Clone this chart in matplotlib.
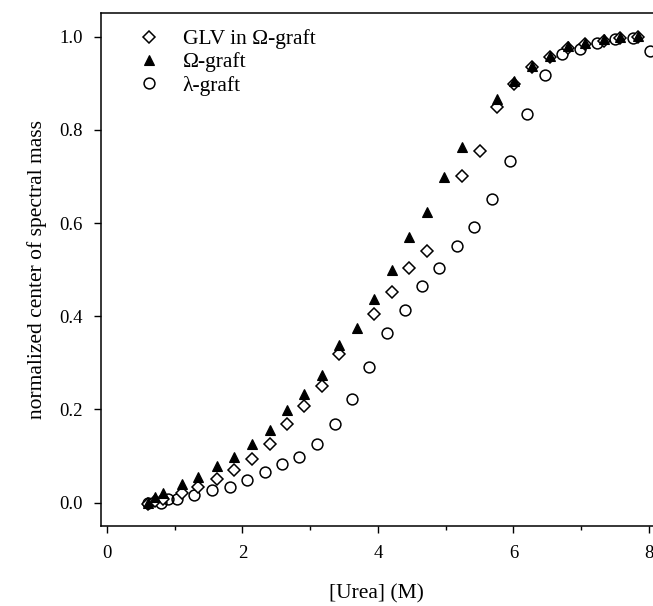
import matplotlib
matplotlib.use('Agg')
import matplotlib.pyplot as plt
from matplotlib.ticker import MultipleLocator

plt.rcParams['font.family'] = ['Liberation Serif', 'DejaVu Serif']
plt.rcParams['mathtext.fontset'] = 'stix'

# GLV in omega-graft (open diamonds)
glv_x = [0.61, 0.71, 0.83, 1.10, 1.35, 1.62, 1.88, 2.14, 2.41, 2.65, 2.91, 3.17, 3.43,
         3.94, 4.20, 4.46, 4.72, 5.24, 5.50, 5.75, 6.01, 6.28, 6.54, 6.80, 7.06, 7.33,
         7.58, 7.84]
glv_y = [-0.003, 0.004, 0.008, 0.021, 0.033, 0.051, 0.071, 0.094, 0.127, 0.168, 0.207,
         0.250, 0.318, 0.405, 0.453, 0.503, 0.539, 0.700, 0.755, 0.848, 0.898, 0.935,
         0.957, 0.975, 0.985, 0.990, 0.998, 1.000]

# omega-graft (filled triangles)
omega_x = [0.61, 0.71, 0.83, 1.10, 1.35, 1.62, 1.88, 2.14, 2.41, 2.65, 2.91, 3.17, 3.43,
           3.69, 3.94, 4.20, 4.46, 4.72, 4.98, 5.24, 5.75, 6.01, 6.28, 6.54, 6.80, 7.06,
           7.33, 7.58, 7.84]
omega_y = [0.0, 0.013, 0.020, 0.041, 0.055, 0.079, 0.098, 0.125, 0.155, 0.198, 0.234,
           0.273, 0.338, 0.374, 0.437, 0.499, 0.571, 0.624, 0.698, 0.764, 0.866, 0.905,
           0.937, 0.959, 0.979, 0.987, 0.994, 0.999, 1.001]

# lambda-graft (open circles)
lambda_x = [0.61, 0.80, 0.90, 1.03, 1.29, 1.55, 1.82, 2.07, 2.33, 2.58, 2.84, 3.10, 3.36,
            3.62, 3.87, 4.14, 4.40, 4.65, 4.90, 5.16, 5.42, 5.69, 5.95, 6.20, 6.46, 6.72,
            6.98, 7.24, 7.50, 7.76, 8.01]
lambda_y = [0.0, 0.0, 0.008, 0.007, 0.017, 0.027, 0.034, 0.048, 0.066, 0.082, 0.098,
            0.125, 0.168, 0.222, 0.292, 0.365, 0.414, 0.464, 0.504, 0.551, 0.592, 0.652,
            0.733, 0.833, 0.918, 0.963, 0.973, 0.987, 0.994, 0.998, 0.970]

fig = plt.figure(figsize=(6.53, 6.06), dpi=100)
ax = fig.add_axes([0.1542, 0.132, 0.8458, 0.846])

ax.plot(glv_x, glv_y, 'D', ms=6.2, mfc='white', mec='black', mew=1.1, ls='none',
        label='GLV in Ω-graft', zorder=3)
ax.plot(omega_x, omega_y, '^', ms=7.5, mfc='black', mec='black', mew=0.8, ls='none',
        label='Ω-graft', zorder=4)
ax.plot(lambda_x, lambda_y, 'o', ms=7.8, mfc='none', mec='black', mew=1.1, ls='none',
        label='λ-graft', zorder=2)

ax.set_xlim(-0.093, 8.06)
ax.set_ylim(-0.05, 1.05)
ax.xaxis.set_major_locator(MultipleLocator(2))
ax.xaxis.set_minor_locator(MultipleLocator(1))
ax.yaxis.set_major_locator(MultipleLocator(0.2))
ax.yaxis.set_major_formatter(matplotlib.ticker.FormatStrFormatter('%.1f'))

ax.spines['right'].set_visible(False)
for s in ['left', 'bottom', 'top']:
    ax.spines[s].set_linewidth(1.1)
ax.tick_params(which='major', direction='out', length=5, width=1, labelsize=13.5, pad=8)
ax.tick_params(which='minor', direction='out', length=3, width=1)
ax.tick_params(axis='x', which='major', pad=9)

ax.set_xlabel('[Urea] (M)', fontsize=15.5, labelpad=16)
ax.set_ylabel('normalized center of spectral mass', fontsize=15.5, labelpad=9)

ax.legend(loc='upper left', bbox_to_anchor=(0.027, 1.003), frameon=False, fontsize=15.5,
          handletextpad=0.82, labelspacing=0.15, handlelength=1.5, borderpad=0.3)

fig.savefig('out.png', dpi=100)
